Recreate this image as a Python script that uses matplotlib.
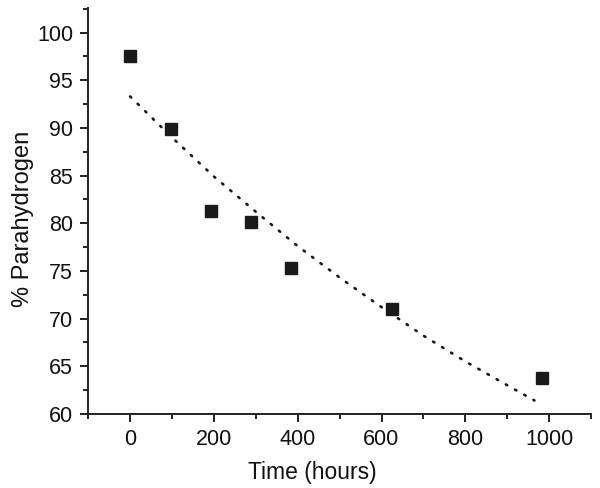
import numpy as np
import matplotlib.pyplot as plt
from matplotlib.ticker import MultipleLocator

plt.rcParams['font.family'] = ['Liberation Sans', 'DejaVu Sans']

# measured points
time_h = [0, 97, 192, 289, 385, 625, 984]
para = [97.5, 89.9, 81.3, 80.1, 75.3, 71.0, 63.8]

# dotted fit curve
fit_t = [0, 100, 200, 300, 400, 500, 600, 700, 800, 900, 965]
fit_p = [93.3, 89.0, 84.9, 81.2, 77.6, 74.3, 71.2, 68.2, 65.5, 63.0, 61.4]

fig = plt.figure(figsize=(6, 4.88), dpi=100)
ax = fig.add_axes([0.147, 0.152, 0.838, 0.832])

ax.plot(fit_t, fit_p, color='#1a1a1a', lw=1.9, linestyle=(0, (0.6, 3.4)),
        dash_capstyle='round')
ax.plot(time_h, para, 's', color='#1a1a1a', markersize=8.5, zorder=3)

ax.set_xlim(-100, 1100)
ax.set_ylim(60, 102.6)
ax.xaxis.set_major_locator(MultipleLocator(200))
ax.xaxis.set_minor_locator(MultipleLocator(100))
ax.yaxis.set_major_locator(MultipleLocator(5))
ax.yaxis.set_minor_locator(MultipleLocator(2.5))

for s in ['top', 'right']:
    ax.spines[s].set_visible(False)
for s in ['left', 'bottom']:
    ax.spines[s].set_linewidth(1.4)
    ax.spines[s].set_color('#222222')

ax.tick_params(which='major', length=5.8, width=1.4, labelsize=15.5,
               pad=5, color='#222222', labelcolor='#111111')
ax.tick_params(which='minor', length=3.6, width=1.4, color='#222222')

ax.set_xlabel('Time (hours)', fontsize=16.5, color='#111111')
ax.set_ylabel('% Parahydrogen', fontsize=17, color='#111111')
ax.xaxis.set_label_coords(0.445, -0.115)
ax.yaxis.set_label_coords(-0.108, 0.479)

fig.savefig('out.png', dpi=100)
